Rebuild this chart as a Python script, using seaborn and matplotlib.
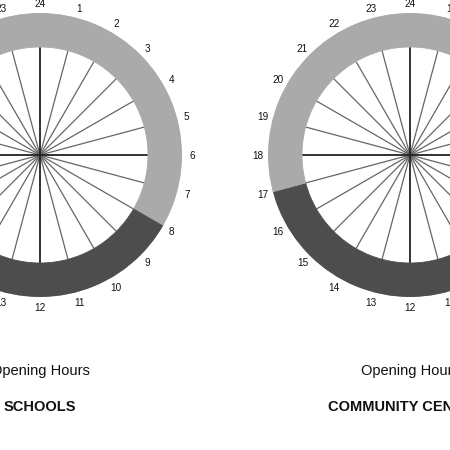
import numpy as np
import matplotlib
matplotlib.use("Agg")
import matplotlib.pyplot as plt
import seaborn as sns

sns.set_style("white")
plt.rcParams['font.family'] = ['Liberation Sans', 'DejaVu Sans']

# hours of the day shown round the dial
hours = list(range(1, 25))
hour_labels = [str(h) for h in hours]

# opening hours (start, end) per facility
facilities = ["SCHOOLS", "COMMUNITY CENTRES"]
open_from = [8, 9]
open_to = [15, 17]

closed_col = "#aaaaaa"
open_col = "#4d4d4d"

fig = plt.figure(figsize=(4.5, 4.5), dpi=100)

R_IN, R_OUT, R_LAB = 108, 142, 152
centers_px = [40, 410]

for name, start, end, cx in zip(facilities, open_from, open_to, centers_px):
    ax = fig.add_axes([(cx - R_OUT) / 450, (295 - R_OUT) / 450,
                       2 * R_OUT / 450, 2 * R_OUT / 450],
                      projection="polar")
    ax.set_theta_zero_location("N")
    ax.set_theta_direction(-1)

    seg = np.arange(24)
    theta = np.deg2rad((seg + 0.5) * 15)
    cols = [open_col if start <= h < end else closed_col for h in seg]
    ax.bar(theta, R_OUT - R_IN, width=np.deg2rad(15), bottom=R_IN,
           color=cols, edgecolor=cols, linewidth=0.6, zorder=2)

    spoke = np.deg2rad(np.array(hours) * 15)
    major = [h % 6 == 0 for h in hours]
    ax.vlines([s for s, m in zip(spoke, major) if not m], 0, R_IN,
              color="#666666", linewidth=0.9, zorder=1)
    ax.vlines([s for s, m in zip(spoke, major) if m], 0, R_IN,
              color="#222222", linewidth=1.3, zorder=1)

    # hour labels centred just outside the ring
    for s, lab in zip(spoke, hour_labels):
        ax.text(s, R_LAB, lab, ha="center", va="center_baseline",
                fontsize=7.2, color="#111111", clip_on=False)

    ax.set_ylim(0, R_OUT)
    ax.set_yticks([])
    ax.set_xticks([])
    ax.grid(False)
    ax.spines["polar"].set_visible(False)
    ax.set_facecolor("white")

    fig.text(cx / 450, 1 - 371 / 450, "Opening Hours", ha="center",
             va="center", fontsize=10.5, color="#111111")
    fig.text(cx / 450, 1 - 407 / 450, name, ha="center", va="center",
             fontsize=10.5, fontweight="bold", color="#111111")

fig.savefig("out.png", dpi=100)
